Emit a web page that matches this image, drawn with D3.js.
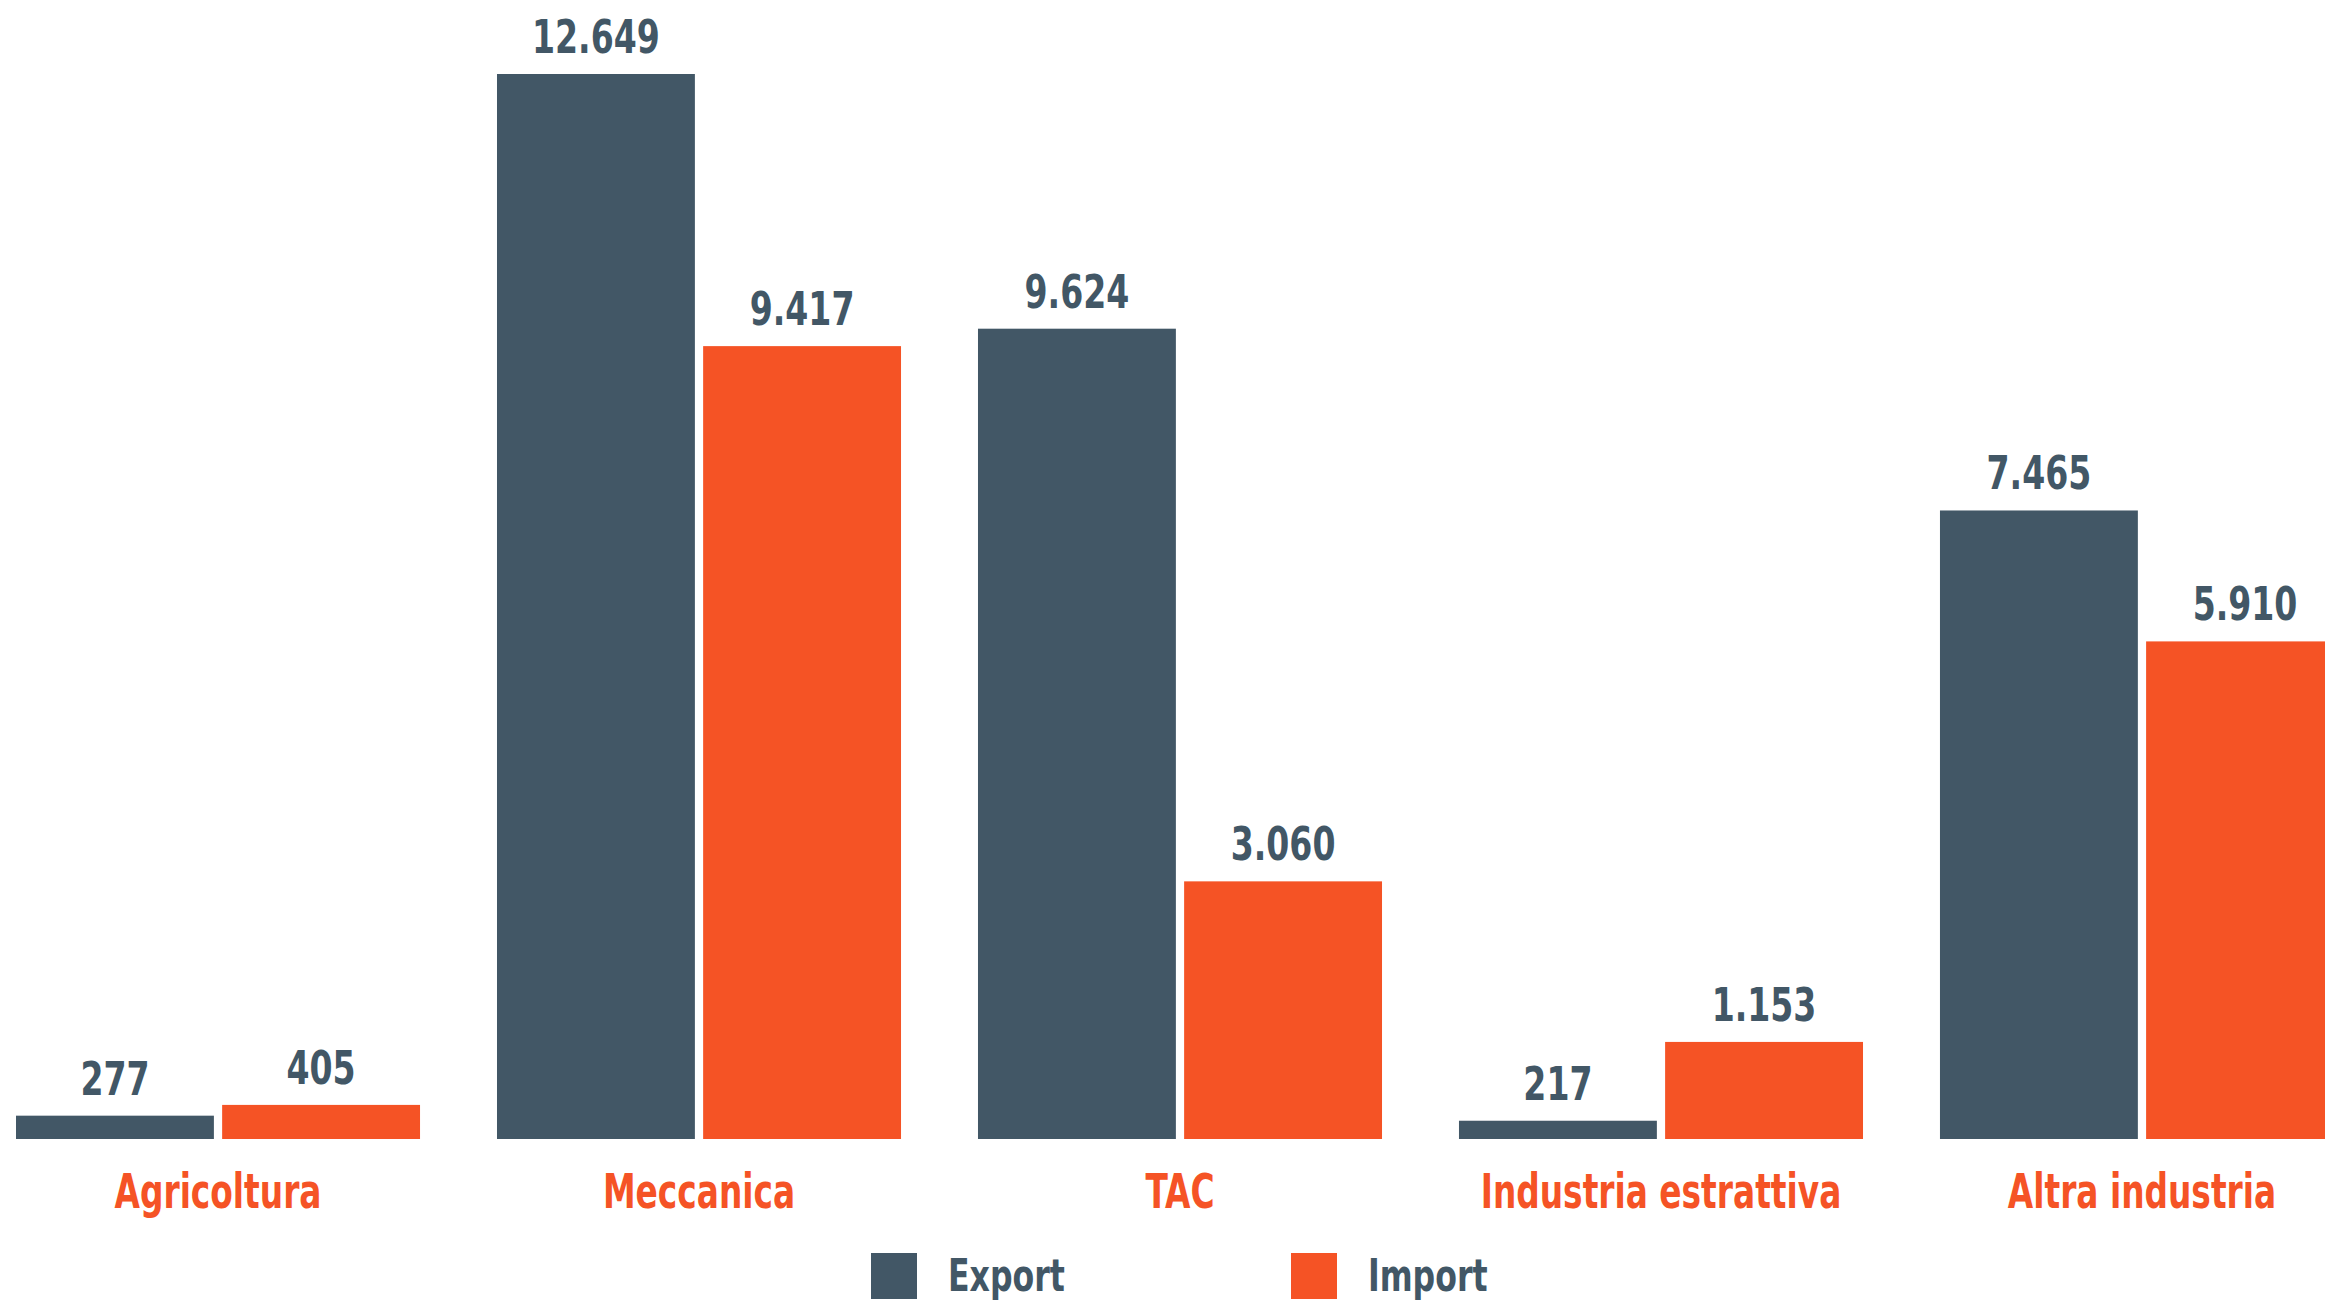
<!DOCTYPE html>
<html>
<head>
<meta charset="utf-8">
<script src="https://cdn.jsdelivr.net/npm/d3@7"></script>
<style>
  html, body { margin: 0; padding: 0; background: #fff; overflow: hidden; }
  text { font-family: "DejaVu Sans Condensed", "DejaVu Sans", sans-serif; font-weight: bold; }
</style>
</head>
<body>
<script>
// values in millions
var categories = ["Agricoltura", "Meccanica", "TAC", "Industria estrattiva", "Altra industria"];
var series = ["Export", "Import"];
var exportValues = [277, 12649, 9624, 217, 7465];
var importValues = [405, 9417, 3060, 1153, 5910];

var width = 2325, height = 1301;
var dark = "#425766", orange = "#F55325";

var colour = d3.scaleOrdinal()
    .domain(series)
    .range([dark, orange]);

var it = d3.formatLocale({ decimal: ",", thousands: ".", grouping: [3], currency: ["€", ""] });
var fmt = it.format(",d");

// the original face is a narrow condensed bold; squeeze the installed one sideways
function squeeze(sel, k) {
  sel.each(function() {
    var t = d3.select(this);
    var x = +t.attr("x") || 0;
    t.attr("x", x / k).attr("transform", "scale(" + k + ",1)");
  });
}

var rows = categories.map(function(c, i) {
  return { cat: c, values: [exportValues[i], importValues[i]] };
});

var svg = d3.select("body")
    .append("svg")
    .attr("width", width)
    .attr("height", height);

// the last group runs past the right edge, as in the picture
var x0 = d3.scaleBand()
    .domain(categories)
    .range([16, 2344])
    .paddingInner(0.16);

var x1 = d3.scaleBand()
    .domain(series)
    .range([0, x0.bandwidth()])
    .paddingInner(0.04);

var y = d3.scaleLinear()
    .domain([0, 12649])
    .range([1139, 74]);

var groups = svg.selectAll(".group")
    .data(rows)
    .enter()
    .append("g")
    .attr("class", "group")
    .attr("transform", function(d) { return "translate(" + x0(d.cat) + ",0)"; });

var cells = groups.selectAll(".cell")
    .data(function(d) { return d.values.map(function(v, i) { return { s: series[i], v: v }; }); })
    .enter()
    .append("g")
    .attr("class", "cell");

cells.append("rect")
    .attr("x", function(d) { return x1(d.s); })
    .attr("y", function(d) { return y(d.v); })
    .attr("width", x1.bandwidth())
    .attr("height", function(d) { return y(0) - y(d.v); })
    .attr("fill", function(d) { return colour(d.s); });

cells.append("text")
    .attr("x", function(d) { return x1(d.s) + x1.bandwidth() / 2; })
    .attr("y", function(d) { return y(d.v) - 21; })
    .attr("text-anchor", "middle")
    .attr("font-size", 46)
    .attr("fill", dark)
    .text(function(d) { return fmt(d.v); })
    .call(squeeze, 0.8);

// category labels under the bars
var xAxis = d3.axisBottom(x0).tickSize(0).tickPadding(0);
var axisG = svg.append("g")
    .attr("transform", "translate(0," + 1208 + ")")
    .call(xAxis);
axisG.select(".domain").remove();
axisG.selectAll("text")
    .attr("dy", 0)
    .attr("y", 0)
    .attr("font-size", 48)
    .attr("font-family", null)
    .attr("fill", orange)
    .call(squeeze, 0.76);

// legend
var legendX = d3.scaleOrdinal().domain(series).range([871, 1291]);
var legend = svg.selectAll(".legend")
    .data(series)
    .enter()
    .append("g")
    .attr("class", "legend")
    .attr("transform", function(d) { return "translate(" + legendX(d) + ",1253)"; });

legend.append("rect")
    .attr("width", 46)
    .attr("height", 46)
    .attr("fill", function(d) { return colour(d); });

legend.append("text")
    .attr("x", 77)
    .attr("y", 38)
    .attr("font-size", 45)
    .attr("fill", dark)
    .text(function(d) { return d; })
    .call(squeeze, 0.78);
</script>
</body>
</html>
